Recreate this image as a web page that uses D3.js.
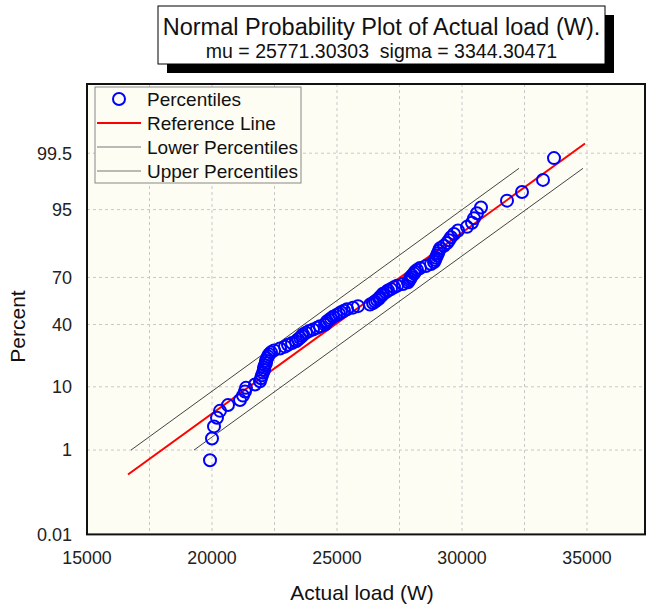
<!DOCTYPE html>
<html>
<head>
<meta charset="utf-8">
<script src="https://cdn.jsdelivr.net/npm/d3@7"></script>
<style>
  body { margin: 0; background: #fff; }
  svg { display: block; font-family: "Liberation Sans", Arial, sans-serif; }
</style>
</head>
<body>
<svg width="646" height="609"></svg>
<script>
// sorted sample of actual load (W)
const loads = [
  19920, 20000, 20080, 20200, 20320, 20640, 21120, 21240, 21320, 21360,
  21720, 21920, 21960, 22000, 22040, 22080, 22080, 22120, 22160, 22160,
  22200, 22240, 22280, 22360, 22480, 22720, 22920, 23040, 23200, 23360,
  23440, 23520, 23600, 23640, 23760, 23880, 24040, 24200, 24320, 24520,
  24560, 24600, 24680, 24760, 24840, 24960, 25080, 25160, 25280, 25400,
  25640, 25840, 26320, 26440, 26520, 26600, 26680, 26720, 26800, 26840,
  26960, 27040, 27160, 27280, 27400, 27640, 27840, 27880, 27920, 27960,
  28000, 28080, 28120, 28200, 28320, 28560, 28760, 28880, 28920, 28960,
  29000, 29040, 29080, 29120, 29280, 29400, 29480, 29560, 29680, 29840,
  30200, 30400, 30480, 30600, 30760, 31800, 32400, 33240, 33680
];
const mu = 25771.30303;
const sigma = 3344.30471;

const xTicks = [15000, 20000, 25000, 30000, 35000];
const xGrid = [17500, 20000, 22500, 25000, 27500, 30000, 32500, 35000];
const yTicks = [0.01, 1, 10, 40, 70, 95, 99.5];

// reference line extent (W)
const refExtent = [16640, 34920];
// percentile bands: [load, percent]
const upperBand = [[16760, 1], [32280, 99]];
const lowerBand = [[19280, 1], [34840, 99]];

const legendItems = ['Percentiles', 'Reference Line', 'Lower Percentiles', 'Upper Percentiles'];

// inverse normal cdf (Acklam)
function probit(p) {
  const a = [-3.969683028665376e+01, 2.209460984245205e+02, -2.759285104469687e+02, 1.383577518672690e+02, -3.066479806614716e+01, 2.506628277459239e+00];
  const b = [-5.447609879822406e+01, 1.615858368580409e+02, -1.556989798598866e+02, 6.680131188771972e+01, -1.328068155288572e+01];
  const c = [-7.784894002430293e-03, -3.223964580411365e-01, -2.400758277161838e+00, -2.549732539343734e+00, 4.374664141464968e+00, 2.938163982698783e+00];
  const d = [7.784695709041462e-03, 3.224671290700398e-01, 2.445134137142996e+00, 3.754408661907416e+00];
  const pl = 0.02425;
  let q, r;
  if (p < pl) {
    q = Math.sqrt(-2 * Math.log(p));
    return (((((c[0] * q + c[1]) * q + c[2]) * q + c[3]) * q + c[4]) * q + c[5]) / ((((d[0] * q + d[1]) * q + d[2]) * q + d[3]) * q + 1);
  }
  if (p <= 1 - pl) {
    q = p - 0.5; r = q * q;
    return (((((a[0] * r + a[1]) * r + a[2]) * r + a[3]) * r + a[4]) * r + a[5]) * q / (((((b[0] * r + b[1]) * r + b[2]) * r + b[3]) * r + b[4]) * r + 1);
  }
  q = Math.sqrt(-2 * Math.log(1 - p));
  return -(((((c[0] * q + c[1]) * q + c[2]) * q + c[3]) * q + c[4]) * q + c[5]) / ((((d[0] * q + d[1]) * q + d[2]) * q + d[3]) * q + 1);
}

const svg = d3.select('svg');
const margin = { left: 87, top: 84, right: 1, bottom: 74.6 };
const width = +svg.attr('width');
const height = +svg.attr('height');
const innerW = width - margin.left - margin.right;
const innerH = height - margin.top - margin.bottom;

const x = d3.scaleLinear().domain([15000, 37320]).range([0, innerW]);
const y = d3.scaleLinear().domain([probit(0.0001), probit(0.9999)]).range([innerH, 0]);
const yp = pct => y(probit(pct / 100));

// ---- title box
const tb = { x: 158, y: 6, w: 447, h: 58 };
svg.append('rect').attr('x', tb.x + 9).attr('y', tb.y + 9).attr('width', tb.w).attr('height', tb.h).attr('fill', '#000');
svg.append('rect').attr('x', tb.x).attr('y', tb.y).attr('width', tb.w).attr('height', tb.h)
  .attr('fill', '#fff').attr('stroke', '#000').attr('stroke-width', 1);
svg.append('text').attr('x', tb.x + tb.w / 2).attr('y', tb.y + 29).attr('text-anchor', 'middle')
  .style('font-size', '23.5px').attr('fill', '#111').text('Normal Probability Plot of Actual load (W).');
svg.append('text').attr('x', tb.x + tb.w / 2).attr('y', tb.y + 52).attr('text-anchor', 'middle')
  .style('font-size', '19.5px').attr('fill', '#111').attr('xml:space', 'preserve')
  .text(`mu = ${mu.toFixed(5)}  sigma = ${sigma.toFixed(5)}`);

const g = svg.append('g').attr('transform', `translate(${margin.left},${margin.top})`);

// ---- plot background
g.append('rect').attr('width', innerW).attr('height', innerH).attr('fill', '#fdfdf4');

// ---- grid
g.selectAll('.vgrid').data(xGrid).enter().append('line')
  .attr('x1', d => x(d)).attr('x2', d => x(d)).attr('y1', 0).attr('y2', innerH)
  .attr('stroke', '#c8c8c8').attr('stroke-dasharray', '3,3');
g.selectAll('.hgrid').data(yTicks.slice(1)).enter().append('line')
  .attr('x1', 0).attr('x2', innerW).attr('y1', d => yp(d)).attr('y2', d => yp(d))
  .attr('stroke', '#c8c8c8').attr('stroke-dasharray', '3,3');

// ---- tick labels
g.selectAll('.xlab').data(xTicks).enter().append('text')
  .attr('x', d => x(d)).attr('y', innerH + 30).attr('text-anchor', 'middle')
  .style('font-size', '17.8px').attr('fill', '#222').text(d => d);
g.selectAll('.ylab').data(yTicks).enter().append('text')
  .attr('x', -15).attr('y', d => yp(d)).attr('dy', '0.35em').attr('text-anchor', 'end')
  .style('font-size', '18px').attr('fill', '#222').text(d => d);

// ---- axis titles
g.append('text').attr('x', innerW / 2 - 4).attr('y', innerH + 66).attr('text-anchor', 'middle')
  .style('font-size', '21px').attr('fill', '#111').text('Actual load (W)');
g.append('text').attr('transform', 'rotate(-90)').attr('x', -(yp(40) + 2)).attr('y', -62)
  .attr('text-anchor', 'middle').style('font-size', '21px').attr('fill', '#111').text('Percent');

// ---- bands
const bandLine = d3.line().x(d => x(d[0])).y(d => yp(d[1]));
g.append('path').datum(upperBand).attr('d', bandLine).attr('fill', 'none').attr('stroke', '#444').attr('stroke-width', 1);
g.append('path').datum(lowerBand).attr('d', bandLine).attr('fill', 'none').attr('stroke', '#444').attr('stroke-width', 1);

// ---- reference line
const refLine = d3.line().x(d => x(d)).y(d => y((d - mu) / sigma));
g.append('path').datum(refExtent).attr('d', refLine).attr('fill', 'none').attr('stroke', '#ff0000').attr('stroke-width', 2);

// ---- percentiles (Blom positions)
const n = loads.length;
g.selectAll('.pt').data(loads).enter().append('circle')
  .attr('cx', d => x(d))
  .attr('cy', (d, i) => y(probit((i + 1 - 0.375) / (n + 0.25))))
  .attr('r', 6)
  .attr('fill', 'none').attr('stroke', '#0000ff').attr('stroke-width', 2);

// ---- frame
g.append('rect').attr('width', innerW).attr('height', innerH).attr('fill', 'none').attr('stroke', '#111').attr('stroke-width', 2);

// ---- legend
const lg = g.append('g').attr('transform', 'translate(8,3)');
lg.append('rect').attr('width', 206).attr('height', 96).attr('fill', '#fdfdf4').attr('stroke', '#888').attr('stroke-width', 1);
const rows = lg.selectAll('.row').data(legendItems).enter().append('g')
  .attr('transform', (d, i) => `translate(0,${12 + i * 24})`);
rows.append('text').attr('x', 52).attr('dy', '0.35em').style('font-size', '19px').attr('fill', '#111').text(d => d);
rows.filter((d, i) => i === 0).append('circle').attr('cx', 24).attr('r', 6)
  .attr('fill', 'none').attr('stroke', '#0000ff').attr('stroke-width', 2);
rows.filter((d, i) => i > 0).append('line').attr('x1', 2).attr('x2', 46)
  .attr('stroke', (d, i) => i === 0 ? '#ff0000' : '#777')
  .attr('stroke-width', (d, i) => i === 0 ? 2 : 1);
</script>
</body>
</html>
